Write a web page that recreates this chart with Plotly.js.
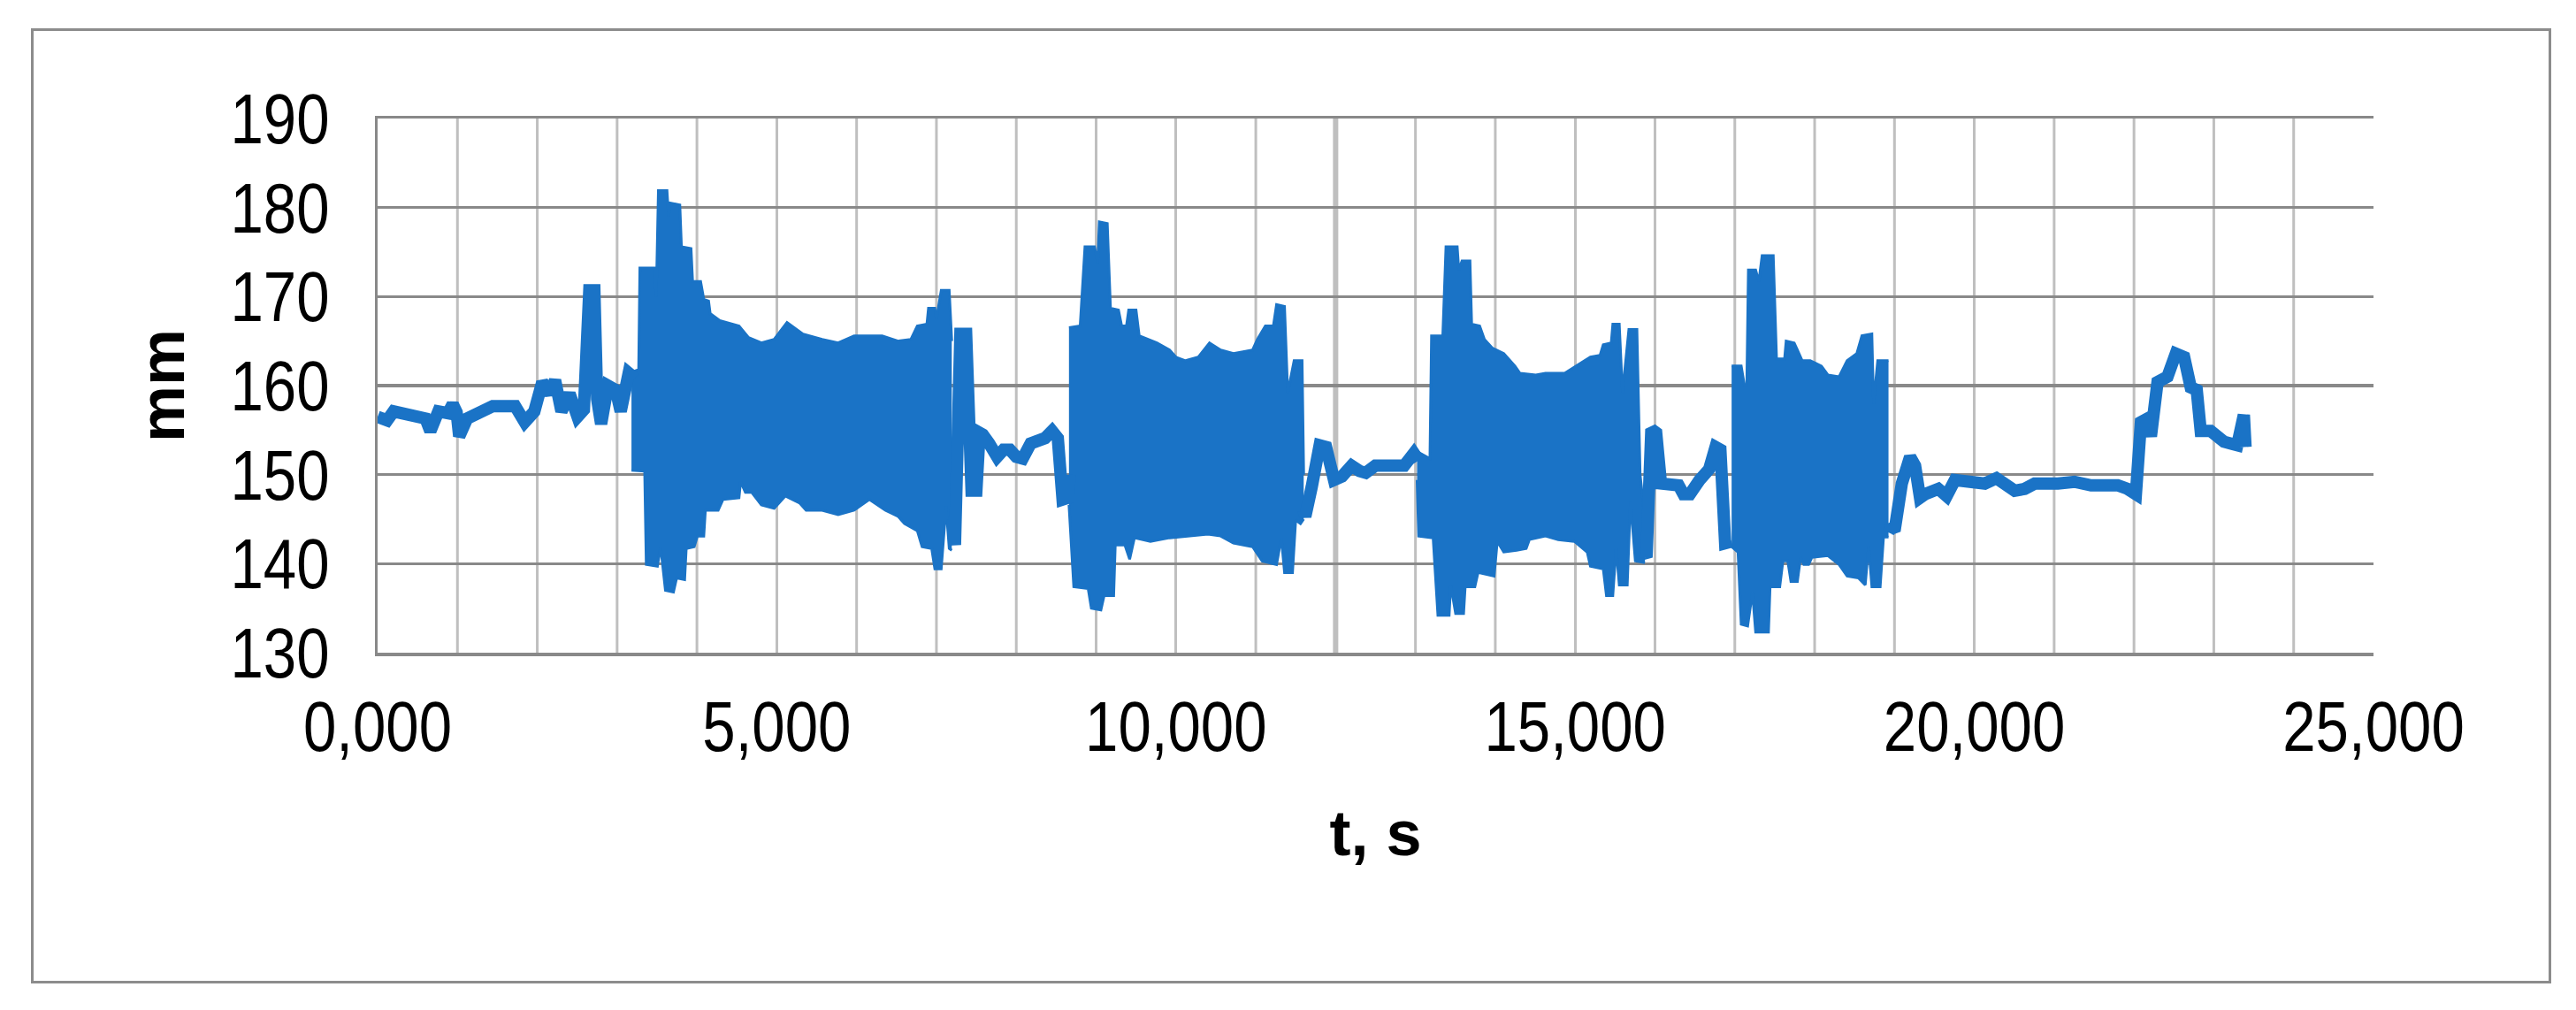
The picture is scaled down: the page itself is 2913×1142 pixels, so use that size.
<!DOCTYPE html>
<html><head><meta charset="utf-8">
<script src="https://cdn.plot.ly/plotly-3.0.1.min.js"></script>
<style>
html,body{margin:0;padding:0;background:#fff;}
#wrap{position:relative;width:2913px;height:1142px;}
#chart{width:2913px;height:1142px;}
#frame{position:absolute;left:35px;top:32px;width:2844px;height:1074px;border:3px solid #8c8c8c;pointer-events:none;}
</style>
</head><body><div id="wrap"><div id="chart"></div><div id="frame"></div></div>
<script>
// Tick labels
const xTickVals = [0, 5000, 10000, 15000, 20000, 25000];
const xTickText = ["0,000", "5,000", "10,000", "15,000", "20,000", "25,000"];
const yTickVals = [130, 140, 150, 160, 170, 180, 190];

// Calm parts of the signal: [t (s), level (mm)]
const calm1 = [[0,156.5],[120,156.1],[200,157.1],[361,156.9],[521,156.5],[600,156.3],[661,154.9],[761,157.1],[881,156.9],[941,157.9],[990,157.0],[1022,154.3],[1122,156.3],[1282,157.1],[1442,157.7],[1723,157.7],[1843,155.9],[1963,157.1],[2063,160.4],[2163,159.1],[2223,160.6],[2303,157.1],[2404,159.1],[2504,156.5],[2584,157.3],[2652,170.7],[2715,170.7],[2750,158.5],[2800,155.7],[2884,160.0],[2984,159.5],[3045,157.1],[3145,161.4],[3225,160.8]];
const calm2 = [[7200,145.0],[7232,142.1],[7300,165.8],[7372,165.8],[7440,148.2],[7500,148.2],[7540,154.7],[7580,154.5],[7660,153.5],[7760,152.0],[7840,152.8],[7920,152.8],[8000,152.0],[8080,151.8],[8180,153.5],[8280,153.7],[8360,154.1],[8448,154.9],[8520,154.1],[8580,147.2],[8648,147.4],[8670,150.0]];
const calm3 = [[11600,146.0],[11620,145.3],[11700,148.6],[11800,153.3],[11880,153.1],[11980,149.4],[12080,149.8],[12200,151.0],[12300,150.4],[12377,150.2],[12497,151.0],[12618,151.0],[12779,151.0],[12859,151.0],[12980,152.4],[13040,151.6]];
const calm4 = [[15874,141.0],[15894,140.7],[15955,155.1],[16015,154.7],[16075,149.0],[16196,148.8],[16296,148.8],[16357,147.8],[16437,147.8],[16558,149.4],[16678,150.6],[16759,153.1],[16819,152.8],[16879,142.3],[16960,142.5]];
const calm5 = [[18925,143.5],[18946,143.9],[19008,144.1],[19092,149.0],[19196,152.0],[19258,151.0],[19320,147.4],[19383,147.8],[19549,148.4],[19653,147.6],[19757,149.4],[19924,149.2],[20132,149.0],[20277,149.6],[20381,148.8],[20506,148.2],[20631,148.4],[20756,149.0],[21047,149.0],[21255,149.2],[21463,148.8],[21796,148.8],[21920,148.4],[22024,147.8],[22087,155.9],[22170,156.3],[22212,154.3],[22295,160.4],[22420,161.0],[22524,163.6],[22628,163.2],[22711,159.8],[22786,159.5],[22836,154.9],[22960,154.9],[23127,153.7],[23293,153.3],[23376,156.7],[23397,153.1]];

// Oscillating parts: upper and lower envelopes [t (s), level (mm)]
const osc1Upper = [[3180,161.5],[3270,161.8],[3285,173.2],[3465,173.2],[3490,170.0],[3517,181.9],[3625,181.9],[3645,179.0],[3665,180.5],[3786,180.3],[3806,175.6],[3926,175.4],[3946,171.7],[4046,171.7],[4086,169.7],[4146,169.5],[4166,168.1],[4286,167.3],[4527,166.7],[4647,165.4],[4807,164.8],[4967,165.2],[5128,167.1],[5328,165.8],[5568,165.2],[5769,164.8],[5969,165.6],[6160,165.6],[6320,165.6],[6520,165.0],[6680,165.2],[6760,166.7],[6880,166.9],[6900,168.7],[6980,168.7],[7000,167.5],[7060,170.7],[7160,170.7],[7192,165.0]];
const osc1Lower = [[3180,150.5],[3345,150.4],[3365,139.9],[3505,139.7],[3545,141.9],[3605,137.0],[3706,136.8],[3746,138.4],[3846,138.2],[3866,141.7],[3966,141.9],[4006,143.1],[4086,143.1],[4106,146.0],[4266,146.0],[4326,147.2],[4527,147.4],[4547,149.2],[4607,148.0],[4687,148.0],[4807,146.6],[4967,146.2],[5108,147.6],[5288,146.8],[5368,146.0],[5568,146.0],[5769,145.5],[5969,146.0],[6160,147.2],[6360,146.0],[6520,145.3],[6600,144.5],[6760,143.7],[6820,141.9],[6940,141.7],[6980,139.4],[7060,139.4],[7120,146.4],[7160,141.7],[7192,141.5]];
const osc2Upper = [[8660,166.5],[8800,166.7],[8860,175.6],[8980,175.6],[9020,173.8],[9040,178.4],[9140,178.2],[9180,168.7],[9280,168.5],[9320,166.7],[9380,166.7],[9408,168.5],[9500,168.5],[9540,165.6],[9760,164.8],[9920,164.0],[10000,163.2],[10120,162.8],[10280,163.2],[10420,164.8],[10560,164.0],[10720,163.6],[10960,164.0],[11020,165.2],[11120,166.7],[11220,166.7],[11260,169.1],[11360,168.9],[11400,159.2],[11480,162.8],[11580,162.8],[11600,150.0]];
const osc2Lower = [[8660,146.6],[8720,137.4],[8900,137.2],[8940,135.0],[9060,134.8],[9100,136.4],[9220,136.4],[9240,142.1],[9360,142.1],[9420,140.5],[9480,142.9],[9680,142.5],[9920,142.9],[10160,143.1],[10400,143.3],[10560,143.1],[10720,142.3],[10960,141.9],[11080,140.3],[11260,139.9],[11320,142.9],[11360,139.0],[11460,139.0],[11500,144.9],[11560,144.5],[11600,145.0]];
const osc3Upper = [[13020,152.6],[13181,151.8],[13201,165.6],[13342,165.6],[13382,175.6],[13523,175.6],[13543,173.0],[13583,174.0],[13683,174.0],[13704,166.9],[13804,166.7],[13864,165.2],[13965,164.2],[14106,163.6],[14246,162.2],[14307,161.4],[14508,161.2],[14628,161.4],[14869,161.4],[15050,162.4],[15191,163.2],[15312,163.4],[15352,164.6],[15452,164.8],[15472,166.9],[15553,166.9],[15593,159.2],[15673,166.3],[15774,166.3],[15814,150.0],[15874,145.0]];
const osc3Lower = [[13020,149.4],[13040,143.1],[13221,142.9],[13281,134.2],[13422,134.2],[13442,137.6],[13503,134.4],[13603,134.4],[13623,137.4],[13744,137.4],[13784,139.0],[13985,138.6],[14025,142.5],[14106,141.3],[14266,141.5],[14387,141.7],[14427,142.7],[14628,143.1],[14789,142.7],[14990,142.5],[15151,141.3],[15191,139.7],[15352,139.4],[15392,136.4],[15472,136.4],[15513,141.7],[15553,137.6],[15653,137.6],[15693,147.0],[15754,140.3],[15874,140.1]];
const osc4Upper = [[16960,162.2],[17080,162.2],[17121,160.0],[17150,160.0],[17170,173.0],[17261,173.0],[17301,171.7],[17342,174.6],[17482,174.6],[17523,163.0],[17623,163.0],[17643,165.0],[17744,164.8],[17844,162.8],[17945,162.8],[18085,162.2],[18166,161.2],[18306,161.0],[18407,162.8],[18528,163.6],[18592,165.6],[18717,165.8],[18738,158.0],[18790,162.8],[18925,162.8]];
const osc4Lower = [[16960,141.9],[17040,141.3],[17080,133.2],[17161,133.0],[17221,136.8],[17261,132.3],[17422,132.3],[17442,137.4],[17563,137.4],[17603,140.3],[17663,140.3],[17703,138.0],[17784,138.0],[17824,140.7],[17864,139.9],[17925,139.9],[17965,140.7],[18166,140.9],[18306,139.9],[18407,138.6],[18548,138.4],[18634,137.6],[18676,142.0],[18717,137.4],[18821,137.4],[18863,143.0],[18925,143.0]];

const calmParts = [calm1, calm2, calm3, calm4, calm5];
const oscParts = [[osc1Upper, osc1Lower], [osc2Upper, osc2Lower], [osc3Upper, osc3Lower], [osc4Upper, osc4Lower]];

const BLUE = '#1a73c6';
const SANS = '"Liberation Sans", Arial, sans-serif';

const traces = [];
oscParts.forEach(function (pair) {
  const up = pair[0], lo = pair[1];
  traces.push({
    x: lo.map(p => p[0]), y: lo.map(p => p[1]),
    type: 'scatter', mode: 'lines',
    line: {color: BLUE, width: 3}, hoverinfo: 'skip', showlegend: false
  });
  traces.push({
    x: up.map(p => p[0]), y: up.map(p => p[1]),
    type: 'scatter', mode: 'lines', fill: 'tonexty', fillcolor: BLUE,
    line: {color: BLUE, width: 3}, hoverinfo: 'skip', showlegend: false
  });
});
calmParts.forEach(function (seg) {
  traces.push({
    x: seg.map(p => p[0]), y: seg.map(p => p[1]),
    type: 'scatter', mode: 'lines',
    line: {color: BLUE, width: 14}, hoverinfo: 'skip', showlegend: false
  });
});

const L = 427, R = 2684, T = 134, B = 738;
const W = 2913, H = 1142;

// Light vertical grid every 1000 s, drawn under everything
const shapes = [];
for (let g = 1000; g < 25000; g += 1000) {
  if (g % 5000 === 0) continue;
  shapes.push({type: 'line', xref: 'x', yref: 'paper', x0: g, x1: g, y0: 0, y1: 1,
               line: {color: '#bfbfbf', width: g === 12000 ? 6 : 3}, layer: 'below'});
}

const layout = {
  width: W, height: H,
  margin: {l: L, r: W - R, t: T, b: H - B, pad: 0},
  paper_bgcolor: '#ffffff', plot_bgcolor: '#ffffff',
  showlegend: false,
  font: {family: SANS, size: 80, color: '#000000'},
  xaxis: {
    range: [0, 25000], tickmode: 'array', tickvals: xTickVals, ticktext: xTickText,
    showgrid: true, gridcolor: '#bfbfbf', gridwidth: 3,
    ticks: '', showline: true, linecolor: '#898989', linewidth: 3.5, mirror: true, zeroline: false,
    ticklabelstandoff: 12, layer: 'below traces',
    tickfont: {family: SANS, size: 80, color: '#000000'},
    title: {text: '<b>t, s</b>', font: {family: SANS, size: 72, color: '#000000'}, standoff: 52},
    automargin: false, fixedrange: true
  },
  yaxis: {
    range: [130, 190], tickmode: 'array', tickvals: yTickVals,
    showgrid: true, gridcolor: '#898989', gridwidth: 3.5,
    ticks: '', showline: true, linecolor: '#898989', linewidth: 3.5, zeroline: false,
    ticklabelstandoff: 34, layer: 'below traces',
    tickfont: {family: SANS, size: 80, color: '#000000'},
    title: {text: '<b>mm</b>', font: {family: SANS, size: 72, color: '#000000'}, standoff: 9},
    automargin: false, fixedrange: true
  },
  shapes: shapes
};

// The reference uses a condensed face; squeeze the tick labels horizontally.
function condense(gd) {
  const k = 0.84;
  gd.querySelectorAll('.xtick text').forEach(function (el) {
    const X = parseFloat(el.getAttribute('x')) || 0;
    const t0 = el.getAttribute('transform') || '';
    el.setAttribute('transform', t0 + ' translate(' + X + ' 0) scale(' + k + ' 1) translate(' + (-X) + ' 0)');
  });
  gd.querySelectorAll('.ytick text').forEach(function (el) {
    const X = parseFloat(el.getAttribute('x')) || 0;
    const t0 = el.getAttribute('transform') || '';
    el.setAttribute('transform', t0 + ' translate(' + (X - 1) + ' 0) scale(' + k + ' 1) translate(' + (-X) + ' 0)');
  });
}

Plotly.newPlot('chart', traces, layout, {displayModeBar: false, staticPlot: true}).then(condense);
</script>
</body></html>
